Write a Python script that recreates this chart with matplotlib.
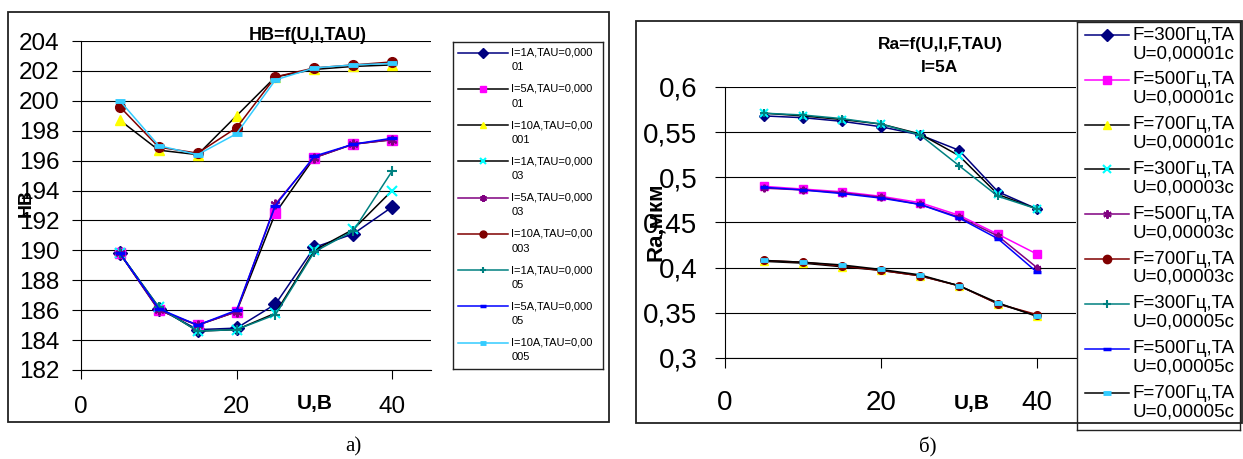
import matplotlib.pyplot as plt
from matplotlib.patches import Rectangle
from matplotlib.ticker import MultipleLocator, FuncFormatter

plt.rcParams['font.family'] = ['Liberation Sans', 'DejaVu Sans']

W, H = 1243, 459

u = [5, 10, 15, 20, 25, 30, 35, 40]

# а) HB = f(U, I, TAU)
hb_i1_t1 = [189.8, 186.1, 184.7, 184.8, 186.4, 190.2, 191.1, 192.9]
hb_i5_t1 = [189.8, 186.0, 185.0, 185.9, 192.5, 196.2, 197.1, 197.4]
hb_i10_t1 = [198.7, 196.7, 196.4, 199.0, 201.6, 202.1, 202.3, 202.4]
hb_i1_t3 = [189.8, 186.2, 184.6, 184.7, 185.8, 190.0, 191.4, 194.0]
hb_i5_t3 = [189.8, 186.0, 185.0, 185.9, 193.1, 196.2, 197.1, 197.4]
hb_i10_t3 = [199.6, 196.9, 196.5, 198.2, 201.6, 202.2, 202.4, 202.6]
hb_i1_t5 = [189.8, 186.2, 184.6, 184.7, 185.7, 189.9, 191.3, 195.3]
hb_i5_t5 = [189.8, 186.1, 185.0, 186.0, 193.0, 196.3, 197.1, 197.5]
hb_i10_t5 = [200.0, 197.0, 196.4, 197.8, 201.4, 202.2, 202.4, 202.5]

hb_labels = [
    ("I=1A,TAU=0,000", "01"), ("I=5A,TAU=0,000", "01"), ("I=10A,TAU=0,00", "001"),
    ("I=1A,TAU=0,000", "03"), ("I=5A,TAU=0,000", "03"), ("I=10A,TAU=0,00", "003"),
    ("I=1A,TAU=0,000", "05"), ("I=5A,TAU=0,000", "05"), ("I=10A,TAU=0,00", "005"),
]

# б) Ra = f(U, I, F, TAU), I = 5A
ra_f300_t1 = [0.568, 0.566, 0.562, 0.556, 0.547, 0.530, 0.484, 0.465]
ra_f500_t1 = [0.490, 0.487, 0.484, 0.479, 0.472, 0.458, 0.437, 0.415]
ra_f700_t1 = [0.407, 0.405, 0.401, 0.397, 0.391, 0.380, 0.360, 0.347]
ra_f300_t3 = [0.571, 0.568, 0.564, 0.559, 0.548, 0.524, 0.481, 0.465]
ra_f500_t3 = [0.488, 0.486, 0.483, 0.478, 0.470, 0.456, 0.435, 0.400]
ra_f700_t3 = [0.408, 0.406, 0.402, 0.397, 0.391, 0.380, 0.360, 0.348]
ra_f300_t5 = [0.571, 0.569, 0.565, 0.559, 0.547, 0.513, 0.479, 0.465]
ra_f500_t5 = [0.489, 0.486, 0.482, 0.477, 0.470, 0.455, 0.432, 0.395]
ra_f700_t5 = [0.408, 0.406, 0.403, 0.398, 0.392, 0.380, 0.361, 0.346]

ra_labels = [
    ("F=300Гц,TA", "U=0,00001с"), ("F=500Гц,TA", "U=0,00001с"), ("F=700Гц,TA", "U=0,00001с"),
    ("F=300Гц,TA", "U=0,00003с"), ("F=500Гц,TA", "U=0,00003с"), ("F=700Гц,TA", "U=0,00003с"),
    ("F=300Гц,TA", "U=0,00005с"), ("F=500Гц,TA", "U=0,00005с"), ("F=700Гц,TA", "U=0,00005с"),
]

NAVY, MAG, YEL, CYAN = '#000080', '#FF00FF', '#FFFF00', '#00FFFF'
PURP, DRED, TEAL, BLUE, SKY = '#800080', '#800000', '#008080', '#0000FF', '#33CCFF'
STAR = (6, 2, 0)

# (line colour, marker, face, edge, marker edge width)
hb_styles = [
    (NAVY, 'D', NAVY, NAVY, 1), ('black', 's', MAG, MAG, 1), ('black', '^', YEL, YEL, 1),
    ('black', 'x', CYAN, CYAN, 1.5), (PURP, STAR, PURP, PURP, 1.5), (DRED, 'o', DRED, DRED, 1),
    (TEAL, '+', TEAL, TEAL, 1.5), (BLUE, '_', BLUE, BLUE, 2.5), (SKY, '_', SKY, SKY, 3.5),
]
ra_styles = [
    (NAVY, 'D', NAVY, NAVY, 1), (MAG, 's', MAG, MAG, 1), ('black', '^', YEL, YEL, 1),
    ('black', 'x', CYAN, CYAN, 1.5), (PURP, STAR, PURP, PURP, 1.5), (DRED, 'o', DRED, DRED, 1),
    (TEAL, '+', TEAL, TEAL, 1.5), (BLUE, '_', BLUE, BLUE, 2.5), ('black', '_', SKY, SKY, 3.5),
]


def px_axes(fig, x0, y0, x1, y1):
    return fig.add_axes([x0 / W, 1 - y1 / H, (x1 - x0) / W, (y1 - y0) / H])


def frame(fig, x0, y0, x1, y1):
    fig.add_artist(Rectangle((x0 / W, 1 - y1 / H), (x1 - x0) / W, (y1 - y0) / H,
                             transform=fig.transFigure, fill=False, ec='#222222', lw=1.3))


def ptext(fig, x, y, s, **kw):
    fig.text(x / W, 1 - y / H, s, ha='center', va='center', **kw)


def setup_axes(ax, ylim, ystep, fmt, tick_fs, xpad, ypad, tlen):
    ax.set_xlim(0, 45)
    ax.set_ylim(*ylim)
    ax.xaxis.set_major_locator(MultipleLocator(20))
    ax.yaxis.set_major_locator(MultipleLocator(ystep))
    ax.yaxis.set_major_formatter(FuncFormatter(fmt))
    ax.grid(axis='y', color='black', lw=0.8)
    ax.set_axisbelow(True)
    for s in ('top', 'right'):
        ax.spines[s].set_visible(False)
    for s in ('left', 'bottom'):
        ax.spines[s].set_color('black')
        ax.spines[s].set_linewidth(0.8)
    ax.tick_params(axis='x', direction='out', length=tlen, width=0.8, labelsize=tick_fs, pad=xpad)
    ax.tick_params(axis='y', direction='out', length=tlen, width=0.8, labelsize=tick_fs, pad=ypad)


def draw_series(ax, series, styles, ms):
    for ys, (lc, mk, fc, ec, mew) in zip(series, styles):
        ax.plot(u, ys, color=lc, lw=1.1, marker=mk, mfc=fc, mec=ec, mew=mew, ms=ms)


def draw_key(fig, box, labels, styles, first, pitch, dy2, hx, tx, fs, ms):
    x0, y0, x1, y1 = box
    ax = px_axes(fig, x0, y0, x1, y1)
    ax.set_xlim(x0, x1)
    ax.set_ylim(y1, y0)
    ax.set_xticks([])
    ax.set_yticks([])
    ax.set_facecolor('none')
    for sp in ax.spines.values():
        sp.set_color('#222222')
        sp.set_linewidth(1.0)
    for i, ((l1, l2), (lc, mk, fc, ec, mew)) in enumerate(zip(labels, styles)):
        y = first + i * pitch
        ax.plot([hx[0], hx[1]], [y, y], color=lc, lw=1.1)
        ax.plot([(hx[0] + hx[1]) / 2], [y], ls='none', marker=mk, mfc=fc, mec=ec, mew=mew, ms=ms)
        ax.text(tx, y, l1, va='center', ha='left', fontsize=fs)
        ax.text(tx, y + dy2, l2, va='center', ha='left', fontsize=fs)


fig = plt.figure(figsize=(W / 100, H / 100), dpi=100)

# ---- chart а)
frame(fig, 8, 12, 609, 422)
ax1 = px_axes(fig, 81, 41, 431, 370)
setup_axes(ax1, (182, 204), 2, lambda v, p: f"{v:g}", 17.5, 12, 9, 6.5)
draw_series(ax1, [hb_i1_t1, hb_i5_t1, hb_i10_t1, hb_i1_t3, hb_i5_t3, hb_i10_t3,
                  hb_i1_t5, hb_i5_t5, hb_i10_t5], hb_styles, 7)
ptext(fig, 308, 35, "HB=f(U,I,TAU)", fontsize=13, fontweight='bold')
ptext(fig, 315, 403, "U,В", fontsize=15, fontweight='bold')
ptext(fig, 26, 203, "HB", fontsize=14, fontweight='bold', rotation=90)
draw_key(fig, (453, 42, 603, 369), hb_labels, hb_styles, 52.7, 36.25, 14.7,
         (458, 508), 511.5, 8, 5)
ptext(fig, 353, 447, "а)", fontsize=15, family='Liberation Serif')

# ---- chart б)
frame(fig, 636, 21, 1242, 423)
ax2 = px_axes(fig, 725, 87, 1076, 358)
setup_axes(ax2, (0.3, 0.6), 0.05, lambda v, p: f"{v:g}".replace('.', ','), 20, 16, 13, 7)
draw_series(ax2, [ra_f300_t1, ra_f500_t1, ra_f700_t1, ra_f300_t3, ra_f500_t3, ra_f700_t3,
                  ra_f300_t5, ra_f500_t5, ra_f700_t5], ra_styles, 5.5)
ptext(fig, 940, 44, "Ra=f(U,I,F,TAU)", fontsize=12.5, fontweight='bold')
ptext(fig, 940, 68, "I=5A", fontsize=12.5, fontweight='bold')
ptext(fig, 972, 403, "U,В", fontsize=15, fontweight='bold')
ptext(fig, 656, 222, "Ra,мкм", fontsize=16, fontweight='bold', rotation=90)
draw_key(fig, (1077, 22, 1240, 430), ra_labels, ra_styles, 35, 44.8, 18.5,
         (1085, 1129), 1133, 13.5, 6)
ptext(fig, 928, 447, "б)", fontsize=15, family='Liberation Serif')

fig.savefig("out.png", dpi=100)
